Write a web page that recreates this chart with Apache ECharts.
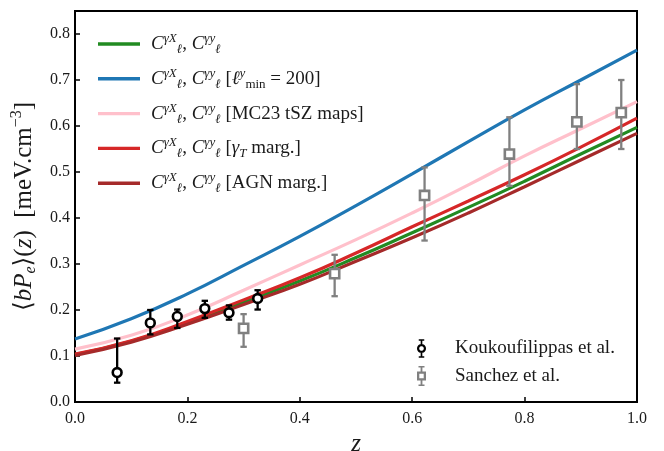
<!DOCTYPE html>
<html>
<head>
<meta charset="utf-8">
<script src="https://cdn.jsdelivr.net/npm/echarts@6/dist/echarts.min.js"></script>
<style>
html,body{margin:0;padding:0;background:#fff;}
#chart{width:664px;height:451px;}
</style>
</head>
<body>
<div id="chart"></div>
<script>
// ---- data ----
const zGrid      = [0.0, 0.1, 0.2, 0.3, 0.4, 0.5, 0.6, 0.7, 0.8, 0.9, 1.0];
const yFiducial  = [0.103, 0.132, 0.172, 0.217, 0.263, 0.314, 0.368, 0.423, 0.480, 0.539, 0.597];
const yLmin200   = [0.137, 0.181, 0.235, 0.297, 0.360, 0.427, 0.496, 0.566, 0.635, 0.700, 0.765];
const yMC23      = [0.115, 0.145, 0.189, 0.243, 0.298, 0.353, 0.411, 0.472, 0.535, 0.594, 0.653];
const yGammaT    = [0.104, 0.133, 0.175, 0.222, 0.270, 0.324, 0.381, 0.437, 0.494, 0.554, 0.617];
const yAGN       = [0.101, 0.130, 0.169, 0.212, 0.256, 0.306, 0.357, 0.411, 0.468, 0.526, 0.584];

const koukZ  = [0.075, 0.134, 0.182, 0.231, 0.274, 0.325];
const koukY  = [0.064, 0.172, 0.186, 0.203, 0.194, 0.225];
const koukLo = [0.042, 0.147, 0.161, 0.183, 0.179, 0.201];
const koukHi = [0.138, 0.200, 0.201, 0.220, 0.210, 0.243];

const sanZ  = [0.300, 0.462, 0.622, 0.773, 0.893, 0.972];
const sanY  = [0.160, 0.279, 0.449, 0.539, 0.609, 0.629];
const sanLo = [0.120, 0.230, 0.351, 0.470, 0.550, 0.550];
const sanHi = [0.191, 0.320, 0.510, 0.619, 0.691, 0.700];

const seriesNames = ['fiducial', 'lmin200', 'mc23', 'gammaT', 'agn'];
const seriesLabels = {
  fiducial: '',
  lmin200: '{t| [}{C|ℓ}{sup|y}{subr|min}{t| = 200]}',
  mc23: '{t| [MC23 tSZ maps]}',
  gammaT: '{t| [}{C|γ}{sub|T}{t| marg.]}',
  agn: '{t| [AGN marg.]}'
};
const pointNames = ['Koukoufilippas et al.', 'Sanchez et al.'];

// ---- build ----
const FONT = '"Liberation Serif", "DejaVu Serif", serif';
const TXT = '#1a1a1a';
function pairs(xs, ys){ return xs.map((x,i)=>[x, ys[i]]); }
function quads(xs, ys, lo, hi){ return xs.map((x,i)=>[x, ys[i], lo[i], hi[i]]); }

const lineDefs = [
  {name:'fiducial', data:yFiducial, color:'#228B22'},
  {name:'lmin200',  data:yLmin200,  color:'#1f77b4'},
  {name:'mc23',     data:yMC23,     color:'#FFC0CB'},
  {name:'gammaT',   data:yGammaT,   color:'#d62728'},
  {name:'agn',      data:yAGN,      color:'#a52a2a'}
];

function errRender(kind){
  return function(params, api){
    const x = api.value(0), y = api.value(1), lo = api.value(2), hi = api.value(3);
    const p = api.coord([x, y]);
    const pl = api.coord([x, lo]);
    const ph = api.coord([x, hi]);
    const color = api.visual('color');
    const lw = 2.3, cap = 3.2;
    const children = [
      {type:'line', shape:{x1:p[0], y1:pl[1], x2:p[0], y2:ph[1]}, style:{stroke:color, lineWidth:lw}},
      {type:'line', shape:{x1:p[0]-cap, y1:pl[1], x2:p[0]+cap, y2:pl[1]}, style:{stroke:color, lineWidth:lw}},
      {type:'line', shape:{x1:p[0]-cap, y1:ph[1], x2:p[0]+cap, y2:ph[1]}, style:{stroke:color, lineWidth:lw}}
    ];
    if (kind === 'circle') {
      children.push({type:'circle', shape:{cx:p[0], cy:p[1], r:4.4}, style:{fill:'#fff', stroke:color, lineWidth:2.6}});
    } else {
      children.push({type:'rect', shape:{x:p[0]-4.6, y:p[1]-4.6, width:9.2, height:9.2}, style:{fill:'#fff', stroke:color, lineWidth:2.6}});
    }
    return {type:'group', children};
  };
}

// legend icon geometry (error bar + hollow marker), polygon circles
function polyCircle(cx, cy, r, cw){
  const n = 24, pts = [];
  for (let k = 0; k < n; k++) {
    const a = (cw ? 1 : -1) * 2 * Math.PI * k / n;
    pts.push((cx + r*Math.cos(a)).toFixed(3) + ',' + (cy + r*Math.sin(a)).toFixed(3));
  }
  return 'M' + pts.join('L') + 'Z';
}
const barPart = 'M2,0L8,0L8,1.6L2,1.6Z M4.1,1.6L5.9,1.6L5.9,6L4.1,6Z M4.1,14L5.9,14L5.9,18.4L4.1,18.4Z M2,18.4L8,18.4L8,20L2,20Z ';
const iconCircle = 'path://' + barPart + polyCircle(5, 10, 4.9, true) + ' ' + polyCircle(5, 10, 2.5, false);
const iconSquare = 'path://' + barPart + 'M0.5,5.5L9.5,5.5L9.5,14.5L0.5,14.5Z M2.8,7.8L2.8,12.2L7.2,12.2L7.2,7.8Z';

const series = lineDefs.map(d => ({
  name: d.name,
  type: 'line',
  data: pairs(zGrid, d.data),
  smooth: 0.5,
  showSymbol: false,
  symbol: 'none',
  color: d.color,
  lineStyle: {color: d.color, width: 3.2},
  z: 2
}));
series.push({
  name: pointNames[0], type:'custom', renderItem: errRender('circle'),
  data: quads(koukZ, koukY, koukLo, koukHi), encode:{x:0, y:1},
  color:'#000', itemStyle:{color:'#000'}, z: 5
});
series.push({
  name: pointNames[1], type:'custom', renderItem: errRender('square'),
  data: quads(sanZ, sanY, sanLo, sanHi), encode:{x:0, y:1},
  color:'#808080', itemStyle:{color:'#808080'}, z: 5
});

const legRich = {
  sp: {width: 6},
  C: {fontFamily: FONT, fontStyle:'italic', fontSize: 19, lineHeight: 24, color: TXT},
  sup: {fontFamily: FONT, fontStyle:'italic', fontSize: 13, lineHeight: 13, verticalAlign:'top', color: TXT},
  sub: {fontFamily: FONT, fontStyle:'italic', fontSize: 13, lineHeight: 13, verticalAlign:'bottom', color: TXT},
  subr: {fontFamily: FONT, fontSize: 13, lineHeight: 13, verticalAlign:'bottom', color: TXT},
  t: {fontFamily: FONT, fontSize: 19, lineHeight: 24, color: TXT}
};

const chart = echarts.init(document.getElementById('chart'), null, {renderer:'canvas'});
chart.setOption({
  animation: false,
  backgroundColor: '#fff',
  grid: {left: 75, right: 27, top: 11, bottom: 49, containLabel: false, outerBoundsMode: 'none',
         show: true, borderColor: '#000', borderWidth: 2, backgroundColor: 'transparent'},
  legend: [
    {
      data: seriesNames,
      orient: 'vertical',
      left: 93, top: 27,
      itemWidth: 42, itemHeight: 3.4,
      itemGap: 10.8,
      icon: 'rect',
      formatter: function(n){
        return '{sp| }{C|C}{sup|γX}{sub|ℓ}{t|, }{C|C}{sup|γy}{sub|ℓ}' + seriesLabels[n];
      },
      textStyle: {fontFamily: FONT, fontSize: 19, color: TXT, rich: legRich}
    },
    {
      data: [
        {name: pointNames[0], icon: iconCircle},
        {name: pointNames[1], icon: iconSquare}
      ],
      orient: 'vertical',
      left: 412, top: 334,
      itemWidth: 9, itemHeight: 20,
      itemGap: 8,
      itemStyle: {borderWidth: 0, borderColor: 'transparent'},
      formatter: function(n){ return '{sp2| }{t|' + n + '}'; },
      textStyle: {fontFamily: FONT, fontSize: 19, color: TXT, rich: {sp2:{width: 24}, t:{fontFamily: FONT, fontSize: 19, color: TXT}}}
    }
  ],
  xAxis: {
    type: 'value', min: 0, max: 1, interval: 0.2,
    name: 'z', nameLocation: 'middle', nameGap: 26,
    nameTextStyle: {fontFamily: FONT, fontStyle: 'italic', fontSize: 25, color: TXT},
    axisLine: {show: true, onZero: false, lineStyle: {color: '#000', width: 2}},
    axisTick: {show: true, inside: true, length: 5, lineStyle: {color: '#000', width: 1.5}},
    axisLabel: {fontFamily: FONT, fontSize: 16, color: TXT, margin: 9, formatter: v => v.toFixed(1)},
    splitLine: {show: false}
  },
  yAxis: {
    type: 'value', min: 0, max: 0.85, interval: 0.1,
    name: '⟨{i|bP}{s|e}⟩({i|z})  [meV.cm{p|−3}]',
    nameLocation: 'middle', nameGap: 36, nameRotate: 90,
    nameTextStyle: {
      fontFamily: FONT, fontSize: 25, color: TXT,
      rich: {
        i: {fontFamily: FONT, fontStyle:'italic', fontSize: 25, lineHeight: 30, color: TXT},
        s: {fontFamily: FONT, fontStyle:'italic', fontSize: 16, lineHeight: 16, verticalAlign:'bottom', color: TXT},
        p: {fontFamily: FONT, fontSize: 16, lineHeight: 16, verticalAlign:'top', color: TXT}
      }
    },
    axisLine: {show: true, onZero: false, lineStyle: {color: '#000', width: 2}},
    axisTick: {show: true, inside: true, length: 5, lineStyle: {color: '#000', width: 1.5}},
    axisLabel: {fontFamily: FONT, fontSize: 16, color: TXT, margin: 5, showMaxLabel: false,
      formatter: v => (Math.abs(v*10 - Math.round(v*10)) < 1e-6 ? v.toFixed(1) : '')},
    splitLine: {show: false}
  },
  series: series
});
</script>
</body>
</html>
